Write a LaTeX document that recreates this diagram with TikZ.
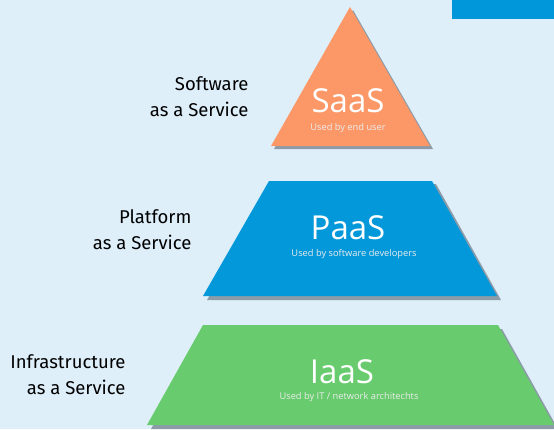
\documentclass[tikz,border=0pt]{standalone}
\usepackage{fontspec}
\setmainfont{Fira Sans}
\newfontfamily\lightfont{Open Sans}
\definecolor{bgc}{RGB}{222,239,250}
\definecolor{saasc}{RGB}{252,152,104}
\definecolor{paasc}{RGB}{2,152,218}
\definecolor{iaasc}{RGB}{104,203,110}
\definecolor{shadc}{RGB}{140,155,168}
\definecolor{barc}{RGB}{0,150,218}
\tikzset{
  shad/.style={fill=shadc},
  lbl/.style={align=right, anchor=east, font=\fontsize{18.5}{26}\selectfont, text=black},
  big/.style={text=white, font=\lightfont\fontsize{33}{33}\selectfont},
  small/.style={text=white!85!gray, font=\lightfont\fontsize{9.3}{10}\selectfont}
}
\begin{document}
\begin{tikzpicture}[x=1pt,y=-1pt]
\fill[bgc] (0,0) rectangle (554,429);
\useasboundingbox (0,0) rectangle (554,429);
\fill[barc] (452,0) rectangle (554,19);
% SaaS
\fill[shad] (353,10) -- (433,149) -- (274,149) -- cycle;
\fill[saasc] (350,7) -- (430,146) -- (271,146) -- cycle;
\node[big] (saas) at (348,101) {SaaS};
\node[small] (saass) at (348,128) {Used by end user};
% PaaS
\fill[shad] (273,184) -- (436,184) -- (501,300) -- (207,300) -- cycle;
\fill[paasc] (269,181) -- (432,181) -- (497,296) -- (203,296) -- cycle;
\node[big] (paas) at (348,228) {PaaS};
\node[small] (paass) at (354,254) {Used by software developers};
% IaaS
\fill[shad] (207,329) -- (502,329) -- (558,429) -- (151,429) -- cycle;
\fill[iaasc] (203,325) -- (498,325) -- (554,425) -- (147,425) -- cycle;
\node[big] (iaas) at (342,372) {IaaS};
\node[small] (iaass) at (349,397) {Used by IT / network architechts};
% labels
\node[lbl] (l1) at (252,97) {Software\\as a Service};
\node[lbl] (l2) at (195,230) {Platform\\as a Service};
\node[lbl] (l3) at (129,375) {Infrastructure\\as a Service};
\end{tikzpicture}
\end{document}
